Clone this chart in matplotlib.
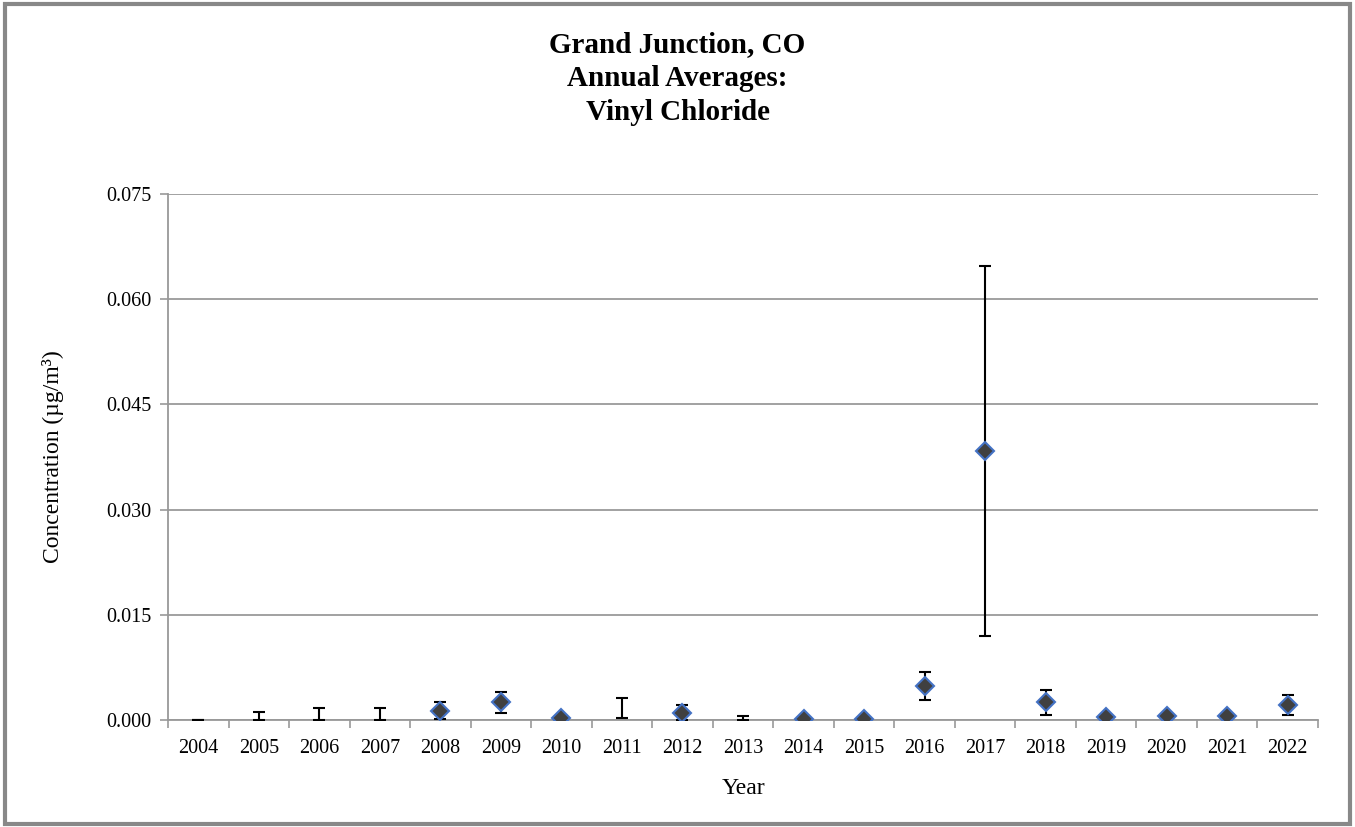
import numpy as np
import matplotlib.pyplot as plt
from matplotlib.patches import Rectangle

plt.rcParams['font.family'] = ['Liberation Serif', 'DejaVu Serif']

years = ["2004", "2005", "2006", "2007", "2008", "2009", "2010", "2011", "2012", "2013",
         "2014", "2015", "2016", "2017", "2018", "2019", "2020", "2021", "2022"]
# annual averages (None = no marker shown)
means = [None, None, None, None, 0.0013, 0.0025, 0.0003, None, 0.0010, None,
         0.0001, 0.0001, 0.0049, 0.0384, 0.0025, 0.00045, 0.0006, 0.0006, 0.0021]
# confidence interval bounds
lower = [0.0, 0.0, 0.0, 0.0, 0.0001, 0.0010, 0.0003, 0.0003, 0.0, 0.0,
         0.0001, 0.0001, 0.0028, 0.0120, 0.0007, 0.0003, 0.0006, 0.0006, 0.0007]
upper = [0.0, 0.00116, 0.00164, 0.00168, 0.0025, 0.0040, 0.0003, 0.0032, 0.00215, 0.00054,
         0.0001, 0.0001, 0.0069, 0.0648, 0.0043, 0.0007, 0.0006, 0.0006, 0.0035]

fig = plt.figure(figsize=(13.55, 8.27), dpi=100)
ax = fig.add_axes([0.124, 0.1294, 0.8487, 0.636])

x = np.arange(len(years))
lo = np.array(lower)
hi = np.array(upper)
mid = (lo + hi) / 2
ax.errorbar(x, mid, yerr=(hi - lo) / 2, fmt='none', ecolor='black', elinewidth=1.5,
            capsize=4.5, capthick=1.5, zorder=3)

mx = [i for i, m in enumerate(means) if m is not None]
my = [means[i] for i in mx]
ax.plot(mx, my, linestyle='none', marker='D', markersize=9, markerfacecolor='#404040',
        markeredgecolor='#4472C4', markeredgewidth=1.5, zorder=4)

ax.set_xlim(-0.5, len(years) - 0.5)
ax.set_ylim(0, 0.075)
yt = np.arange(0, 0.0751, 0.015)
ax.set_yticks(yt)
ax.set_yticklabels([f"{v:.3f}" for v in yt], fontsize=14.5)
ax.set_xticks(x)
ax.set_xticklabels(years, fontsize=14.5)
ax.set_xticks(np.arange(-0.5, len(years), 1), minor=True)
ax.tick_params(axis='x', which='major', length=0, pad=14)
ax.tick_params(axis='x', which='minor', length=6, color='#999999', width=1.2)
ax.tick_params(axis='y', length=6, color='#999999', width=1.2, pad=6)

ax.grid(axis='y', color='#9a9a9a', linewidth=1.3)
ax.set_axisbelow(True)
for s in ['top', 'right']:
    ax.spines[s].set_visible(False)
for s in ['left', 'bottom']:
    ax.spines[s].set_color('#999999')
    ax.spines[s].set_linewidth(1.3)

ax.set_xlabel("Year", fontsize=17, labelpad=14)
ax.set_ylabel("Concentration (µg/m³)", fontsize=17, labelpad=30)

fig.text(0.5, 0.963, "Grand Junction, CO\nAnnual Averages:\nVinyl Chloride", ha='center', va='top',
         fontsize=21, fontweight='bold', linespacing=1.34)

fig.patches.append(Rectangle((0.004, 0.004), 0.992, 0.991, transform=fig.transFigure,
                             fill=False, edgecolor='#888888', linewidth=3))

fig.savefig("out.png", dpi=100)
